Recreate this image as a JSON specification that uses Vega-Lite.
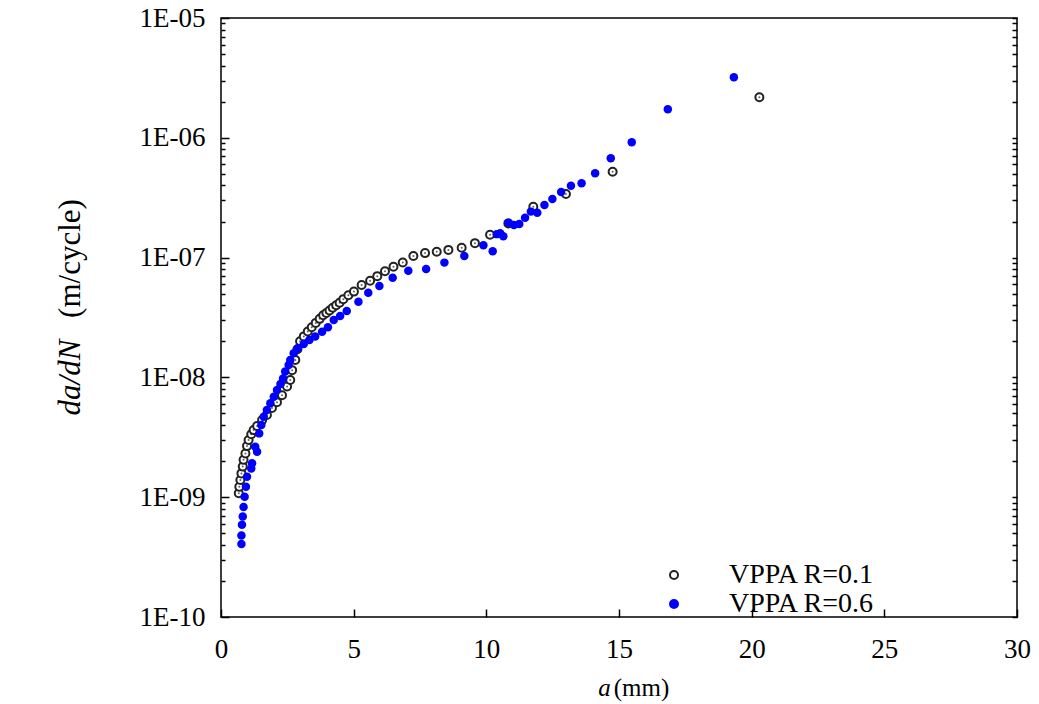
{
  "$schema": "https://vega.github.io/schema/vega-lite/v6.json",
  "autosize": {"type": "none"},
  "padding": {"left": 221, "top": 18, "right": 22, "bottom": 87},
  "width": 796,
  "height": 599,
  "background": "white",
  "config": {
    "view": {"stroke": "black", "strokeWidth": 1.5},
    "font": "Liberation Serif",
    "axis": {"grid": false, "domain": false, "ticks": true, "tickOpacity": 1, "tickColor": "#000000", "labelColor": "black", "titleColor": "black", "labelFont": "Liberation Serif", "titleFont": "Liberation Serif", "titleFontWeight": "normal", "labelFlush": false, "zindex": 1}
  },
  "datasets": {
    "pts": [
      {"s": "VPPA R=0.1", "a": 0.67, "v": 1.08e-9},
      {"s": "VPPA R=0.1", "a": 0.69, "v": 1.22e-9},
      {"s": "VPPA R=0.1", "a": 0.73, "v": 1.39e-9},
      {"s": "VPPA R=0.1", "a": 0.77, "v": 1.58e-9},
      {"s": "VPPA R=0.1", "a": 0.82, "v": 1.80e-9},
      {"s": "VPPA R=0.1", "a": 0.85, "v": 2.05e-9},
      {"s": "VPPA R=0.1", "a": 0.92, "v": 2.32e-9},
      {"s": "VPPA R=0.1", "a": 0.98, "v": 2.67e-9},
      {"s": "VPPA R=0.1", "a": 1.04, "v": 3.0e-9},
      {"s": "VPPA R=0.1", "a": 1.14, "v": 3.35e-9},
      {"s": "VPPA R=0.1", "a": 1.23, "v": 3.63e-9},
      {"s": "VPPA R=0.1", "a": 1.36, "v": 3.93e-9},
      {"s": "VPPA R=0.1", "a": 1.55, "v": 4.4e-9},
      {"s": "VPPA R=0.1", "a": 1.73, "v": 4.85e-9},
      {"s": "VPPA R=0.1", "a": 1.92, "v": 5.55e-9},
      {"s": "VPPA R=0.1", "a": 2.11, "v": 6.2e-9},
      {"s": "VPPA R=0.1", "a": 2.30, "v": 7.1e-9},
      {"s": "VPPA R=0.1", "a": 2.49, "v": 8.4e-9},
      {"s": "VPPA R=0.1", "a": 2.61, "v": 9.5e-9},
      {"s": "VPPA R=0.1", "a": 2.68, "v": 1.15e-8},
      {"s": "VPPA R=0.1", "a": 2.80, "v": 1.4e-8},
      {"s": "VPPA R=0.1", "a": 2.88, "v": 1.72e-8},
      {"s": "VPPA R=0.1", "a": 2.98, "v": 2.0e-8},
      {"s": "VPPA R=0.1", "a": 3.12, "v": 2.2e-8},
      {"s": "VPPA R=0.1", "a": 3.27, "v": 2.42e-8},
      {"s": "VPPA R=0.1", "a": 3.42, "v": 2.62e-8},
      {"s": "VPPA R=0.1", "a": 3.57, "v": 2.85e-8},
      {"s": "VPPA R=0.1", "a": 3.72, "v": 3.08e-8},
      {"s": "VPPA R=0.1", "a": 3.85, "v": 3.3e-8},
      {"s": "VPPA R=0.1", "a": 3.97, "v": 3.45e-8},
      {"s": "VPPA R=0.1", "a": 4.09, "v": 3.62e-8},
      {"s": "VPPA R=0.1", "a": 4.21, "v": 3.82e-8},
      {"s": "VPPA R=0.1", "a": 4.34, "v": 4.0e-8},
      {"s": "VPPA R=0.1", "a": 4.47, "v": 4.2e-8},
      {"s": "VPPA R=0.1", "a": 4.61, "v": 4.5e-8},
      {"s": "VPPA R=0.1", "a": 4.80, "v": 4.85e-8},
      {"s": "VPPA R=0.1", "a": 5.01, "v": 5.2e-8},
      {"s": "VPPA R=0.1", "a": 5.30, "v": 5.9e-8},
      {"s": "VPPA R=0.1", "a": 5.62, "v": 6.4e-8},
      {"s": "VPPA R=0.1", "a": 5.89, "v": 7.0e-8},
      {"s": "VPPA R=0.1", "a": 6.18, "v": 7.7e-8},
      {"s": "VPPA R=0.1", "a": 6.50, "v": 8.4e-8},
      {"s": "VPPA R=0.1", "a": 6.85, "v": 9.1e-8},
      {"s": "VPPA R=0.1", "a": 7.25, "v": 1.03e-7},
      {"s": "VPPA R=0.1", "a": 7.69, "v": 1.09e-7},
      {"s": "VPPA R=0.1", "a": 8.13, "v": 1.12e-7},
      {"s": "VPPA R=0.1", "a": 8.57, "v": 1.16e-7},
      {"s": "VPPA R=0.1", "a": 9.07, "v": 1.21e-7},
      {"s": "VPPA R=0.1", "a": 9.57, "v": 1.32e-7},
      {"s": "VPPA R=0.1", "a": 10.14, "v": 1.55e-7},
      {"s": "VPPA R=0.1", "a": 10.83, "v": 1.93e-7},
      {"s": "VPPA R=0.1", "a": 11.77, "v": 2.66e-7},
      {"s": "VPPA R=0.1", "a": 13.0, "v": 3.40e-7},
      {"s": "VPPA R=0.1", "a": 14.76, "v": 5.21e-7},
      {"s": "VPPA R=0.1", "a": 20.29, "v": 2.18e-6},
      {"s": "VPPA R=0.6", "a": 0.77, "v": 4.06e-10},
      {"s": "VPPA R=0.6", "a": 0.77, "v": 4.8e-10},
      {"s": "VPPA R=0.6", "a": 0.79, "v": 5.9e-10},
      {"s": "VPPA R=0.6", "a": 0.82, "v": 6.9e-10},
      {"s": "VPPA R=0.6", "a": 0.85, "v": 8.3e-10},
      {"s": "VPPA R=0.6", "a": 0.89, "v": 1.01e-9},
      {"s": "VPPA R=0.6", "a": 0.94, "v": 1.22e-9},
      {"s": "VPPA R=0.6", "a": 0.98, "v": 1.48e-9},
      {"s": "VPPA R=0.6", "a": 1.14, "v": 1.74e-9},
      {"s": "VPPA R=0.6", "a": 1.17, "v": 1.92e-9},
      {"s": "VPPA R=0.6", "a": 1.36, "v": 2.4e-9},
      {"s": "VPPA R=0.6", "a": 1.29, "v": 2.64e-9},
      {"s": "VPPA R=0.6", "a": 1.44, "v": 3.41e-9},
      {"s": "VPPA R=0.6", "a": 1.52, "v": 4.0e-9},
      {"s": "VPPA R=0.6", "a": 1.61, "v": 4.7e-9},
      {"s": "VPPA R=0.6", "a": 1.73, "v": 5.35e-9},
      {"s": "VPPA R=0.6", "a": 1.86, "v": 6.08e-9},
      {"s": "VPPA R=0.6", "a": 1.99, "v": 6.9e-9},
      {"s": "VPPA R=0.6", "a": 2.11, "v": 7.85e-9},
      {"s": "VPPA R=0.6", "a": 2.24, "v": 8.8e-9},
      {"s": "VPPA R=0.6", "a": 2.34, "v": 9.8e-9},
      {"s": "VPPA R=0.6", "a": 2.42, "v": 1.12e-8},
      {"s": "VPPA R=0.6", "a": 2.55, "v": 1.27e-8},
      {"s": "VPPA R=0.6", "a": 2.61, "v": 1.40e-8},
      {"s": "VPPA R=0.6", "a": 2.74, "v": 1.59e-8},
      {"s": "VPPA R=0.6", "a": 2.90, "v": 1.75e-8},
      {"s": "VPPA R=0.6", "a": 3.12, "v": 1.90e-8},
      {"s": "VPPA R=0.6", "a": 3.33, "v": 2.05e-8},
      {"s": "VPPA R=0.6", "a": 3.55, "v": 2.19e-8},
      {"s": "VPPA R=0.6", "a": 3.81, "v": 2.41e-8},
      {"s": "VPPA R=0.6", "a": 4.03, "v": 2.62e-8},
      {"s": "VPPA R=0.6", "a": 4.25, "v": 3.02e-8},
      {"s": "VPPA R=0.6", "a": 4.49, "v": 3.26e-8},
      {"s": "VPPA R=0.6", "a": 4.74, "v": 3.58e-8},
      {"s": "VPPA R=0.6", "a": 5.18, "v": 4.28e-8},
      {"s": "VPPA R=0.6", "a": 5.55, "v": 5.1e-8},
      {"s": "VPPA R=0.6", "a": 5.97, "v": 5.79e-8},
      {"s": "VPPA R=0.6", "a": 6.47, "v": 6.8e-8},
      {"s": "VPPA R=0.6", "a": 7.06, "v": 7.78e-8},
      {"s": "VPPA R=0.6", "a": 7.73, "v": 8.03e-8},
      {"s": "VPPA R=0.6", "a": 8.42, "v": 9.08e-8},
      {"s": "VPPA R=0.6", "a": 9.17, "v": 1.03e-7},
      {"s": "VPPA R=0.6", "a": 9.89, "v": 1.27e-7},
      {"s": "VPPA R=0.6", "a": 10.24, "v": 1.13e-7},
      {"s": "VPPA R=0.6", "a": 10.39, "v": 1.57e-7},
      {"s": "VPPA R=0.6", "a": 10.52, "v": 1.6e-7},
      {"s": "VPPA R=0.6", "a": 10.64, "v": 1.51e-7},
      {"s": "VPPA R=0.6", "a": 10.83, "v": 1.95e-7},
      {"s": "VPPA R=0.6", "a": 11.04, "v": 1.87e-7},
      {"s": "VPPA R=0.6", "a": 11.24, "v": 1.91e-7},
      {"s": "VPPA R=0.6", "a": 11.46, "v": 2.15e-7},
      {"s": "VPPA R=0.6", "a": 11.68, "v": 2.42e-7},
      {"s": "VPPA R=0.6", "a": 11.92, "v": 2.37e-7},
      {"s": "VPPA R=0.6", "a": 12.19, "v": 2.75e-7},
      {"s": "VPPA R=0.6", "a": 12.49, "v": 3.08e-7},
      {"s": "VPPA R=0.6", "a": 12.82, "v": 3.53e-7},
      {"s": "VPPA R=0.6", "a": 13.19, "v": 3.98e-7},
      {"s": "VPPA R=0.6", "a": 13.59, "v": 4.17e-7},
      {"s": "VPPA R=0.6", "a": 14.10, "v": 5.06e-7},
      {"s": "VPPA R=0.6", "a": 14.69, "v": 6.74e-7},
      {"s": "VPPA R=0.6", "a": 15.48, "v": 9.16e-7},
      {"s": "VPPA R=0.6", "a": 16.84, "v": 1.73e-6},
      {"s": "VPPA R=0.6", "a": 19.33, "v": 3.2e-6}
    ]
  },
  "data": {"name": "pts"},
  "resolve": {"axis": {"x": "independent", "y": "independent"}},
  "layer": [
    {
      "transform": [{"filter": "datum.s === 'VPPA R=0.1'"}],
      "mark": {"type": "point", "shape": "circle", "size": 64, "strokeWidth": 2, "opacity": 1},
      "encoding": {
        "x": {"field": "a", "type": "quantitative", "scale": {"domain": [0, 30], "nice": false},
          "axis": {"orient": "bottom", "values": [0, 5, 10, 15, 20, 25, 30], "offset": -8, "ticks": true, "tickSize": 8, "tickWidth": 1.5, "tickColor": "#000000", "labelPadding": 19, "labelFontSize": 27,
            "title": "a", "titleFontSize": 25, "titleFontStyle": "italic", "titleX": 383, "titleY": 86, "titleAlign": "center", "titleBaseline": "alphabetic"}},
        "y": {"field": "v", "type": "quantitative", "scale": {"type": "log", "domain": [1e-10, 1e-5], "nice": false},
          "axis": {"orient": "left", "values": [1e-10, 1e-9, 1e-8, 1e-7, 1e-6, 1e-5], "offset": -8, "ticks": true, "tickSize": 8, "tickWidth": 1.5, "tickColor": "#000000", "labelPadding": 16, "labelFontSize": 27,
            "labelExpr": "'1E-' + (round(-log(datum.value)/LN10) < 10 ? '0' : '') + round(-log(datum.value)/LN10)",
            "title": "da/dN", "titleFontSize": 31, "titleFontStyle": "italic", "titleX": -143, "titleY": 359, "titleAngle": -90, "titleAlign": "center", "titleBaseline": "bottom"}},
        "fill": {"field": "s", "type": "nominal", "scale": {"domain": ["VPPA R=0.1", "VPPA R=0.6"], "range": ["white", "#0000ff"]},
          "legend": {"title": null, "orient": "none", "legendX": 439, "legendY": 543, "labelFontSize": 28, "labelFont": "Liberation Serif", "labelColor": "black", "labelOffset": 41, "symbolSize": 64, "symbolStrokeWidth": 2, "rowPadding": 1, "padding": 0}},
        "stroke": {"field": "s", "type": "nominal", "scale": {"domain": ["VPPA R=0.1", "VPPA R=0.6"], "range": ["#222222", "#0000ff"]}, "legend": null}
      }
    },
    {
      "transform": [{"filter": "datum.s === 'VPPA R=0.1'"}],
      "mark": {"type": "point", "shape": "circle", "size": 4, "filled": true, "color": "#222222"},
      "encoding": {
        "x": {"field": "a", "type": "quantitative",
          "axis": {"orient": "bottom", "ticks": false, "labels": false, "title": "(mm)", "titleFontSize": 25, "titleX": 420, "titleY": 78, "titleAlign": "center", "titleBaseline": "alphabetic"}},
        "y": {"field": "v", "type": "quantitative",
          "axis": {"orient": "right", "values": [1e-10, 2e-10, 3e-10, 4e-10, 5e-10, 6e-10, 7e-10, 8e-10, 9e-10, 1e-9, 2e-9, 3e-9, 4e-9, 5e-9, 6e-9, 7e-9, 8e-9, 9e-9, 1e-8, 2e-8, 3e-8, 4e-8, 5e-8, 6e-8, 7e-8, 8e-8, 9e-8, 1e-7, 2e-7, 3e-7, 4e-7, 5e-7, 6e-7, 7e-7, 8e-7, 9e-7, 1e-6, 2e-6, 3e-6, 4e-6, 5e-6, 6e-6, 7e-6, 8e-6, 9e-6, 1e-5], "offset": -5, "ticks": true, "tickSize": 5, "tickWidth": 1.5, "tickColor": "#000000", "labels": false, "title": null}}
      }
    },
    {
      "transform": [{"filter": "datum.s === 'VPPA R=0.6'"}],
      "mark": {"type": "point", "shape": "circle", "size": 72, "strokeWidth": 0, "opacity": 1, "filled": true},
      "encoding": {
        "x": {"field": "a", "type": "quantitative", "axis": null},
        "y": {"field": "v", "type": "quantitative",
          "axis": {"orient": "left", "values": [2e-10, 3e-10, 4e-10, 5e-10, 6e-10, 7e-10, 8e-10, 9e-10, 2e-9, 3e-9, 4e-9, 5e-9, 6e-9, 7e-9, 8e-9, 9e-9, 2e-8, 3e-8, 4e-8, 5e-8, 6e-8, 7e-8, 8e-8, 9e-8, 2e-7, 3e-7, 4e-7, 5e-7, 6e-7, 7e-7, 8e-7, 9e-7, 2e-6, 3e-6, 4e-6, 5e-6, 6e-6, 7e-6, 8e-6, 9e-6], "offset": -4, "ticks": true, "tickSize": 4, "tickWidth": 1.5, "tickColor": "#000000", "labels": false,
            "title": "(m/cycle)", "titleFontSize": 31, "titleX": -139, "titleY": 240, "titleAngle": -90, "titleAlign": "center", "titleBaseline": "bottom"}},
        "fill": {"field": "s", "type": "nominal"},
        "stroke": {"field": "s", "type": "nominal", "legend": null}
      }
    }
  ]
}
